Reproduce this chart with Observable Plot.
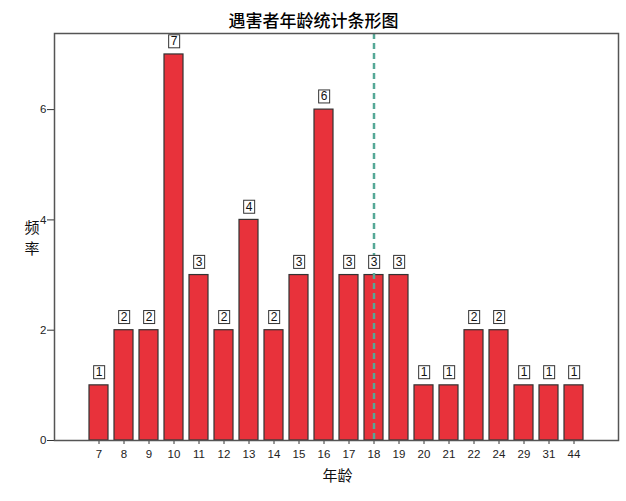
<!DOCTYPE html>
<html>
<head>
<meta charset="utf-8">
<script src="https://cdn.jsdelivr.net/npm/d3@7"></script>
<script src="https://cdn.jsdelivr.net/npm/@observablehq/plot@0.6"></script>
<style>
  html, body { margin: 0; padding: 0; background: #fff; }
</style>
</head>
<body>
<div id="chart"></div>
<script>
const ages = ["7","8","9","10","11","12","13","14","15","16","17","18","19","20","21","22","24","29","31","44"];
const freq = [1,2,2,7,3,2,4,2,3,6,3,3,3,1,1,2,2,1,1,1];
const yTicks = [0, 2, 4, 6];
const refAge = ["18"];
const titleText = "遇害者年龄统计条形图";
const yLabelChars = ["频", "率"];
const xLabel = "年龄";

const data = ages.map((a, i) => ({age: a, n: freq[i]}));
const cjk = "'Noto Sans CJK SC', sans-serif";

const chart = Plot.plot({
  width: 626,
  height: 501,
  marginLeft: 54,
  marginRight: 8,
  marginTop: 33,
  marginBottom: 61,
  style: {fontFamily: "'Liberation Sans', Arial, sans-serif", fontSize: "11.5px", color: "#222", background: "#fff"},
  x: {domain: ages, paddingInner: 0.25, paddingOuter: 1.24, label: null},
  y: {domain: [0, 7.38], label: null},
  marks: [
    Plot.axisY({ticks: yTicks, tickSize: 7, tickPadding: 1, label: null, stroke: "#333"}),
    Plot.axisX({tickSize: 4, tickPadding: 5, label: null, stroke: "#333"}),
    Plot.barY(data, {x: "age", y: "n", fill: "#e8323b", stroke: "#333", strokeWidth: 1.2}),
    Plot.ruleX(refAge, {x: d => d, stroke: "#55a896", strokeWidth: 2.5, strokeDasharray: "6,4"}),
    Plot.text(data, {x: "age", y: "n", text: d => String(d.n), dy: -13, fill: "#111", fontSize: 12, ariaDescription: "value-labels"}),
    Plot.frame({stroke: "#555", strokeWidth: 1.5}),
    Plot.text([titleText], {frameAnchor: "top", lineAnchor: "middle", dx: -23, dy: -12, fontSize: 17, fontFamily: cjk, fill: "#000", fontWeight: "500"}),
    Plot.text([yLabelChars[0]], {frameAnchor: "left", lineAnchor: "middle", dx: -30, dy: -9, fontSize: 15, fontFamily: cjk, fill: "#111"}),
    Plot.text([yLabelChars[1]], {frameAnchor: "left", lineAnchor: "middle", dx: -30, dy: 12, fontSize: 15, fontFamily: cjk, fill: "#111"}),
    Plot.text([xLabel], {frameAnchor: "bottom", lineAnchor: "middle", dx: 1, dy: 36, fontSize: 15, fontFamily: cjk, fill: "#111"})
  ]
});

document.getElementById("chart").append(chart);

// draw boxes behind value labels
const lblGroup = chart.querySelector('g[aria-description="value-labels"]');
if (lblGroup) {
  lblGroup.querySelectorAll("text").forEach(t => {
    const b = t.getBBox();
    const r = document.createElementNS("http://www.w3.org/2000/svg", "rect");
    r.setAttribute("x", b.x - 2);
    r.setAttribute("y", b.y + 0.5);
    r.setAttribute("width", b.width + 4);
    r.setAttribute("height", b.height - 1);
    r.setAttribute("fill", "#fff");
    r.setAttribute("stroke", "#333");
    r.setAttribute("stroke-width", "1");
    if (t.getAttribute("transform")) r.setAttribute("transform", t.getAttribute("transform"));
    t.parentNode.insertBefore(r, t);
  });
}
</script>
</body>
</html>
